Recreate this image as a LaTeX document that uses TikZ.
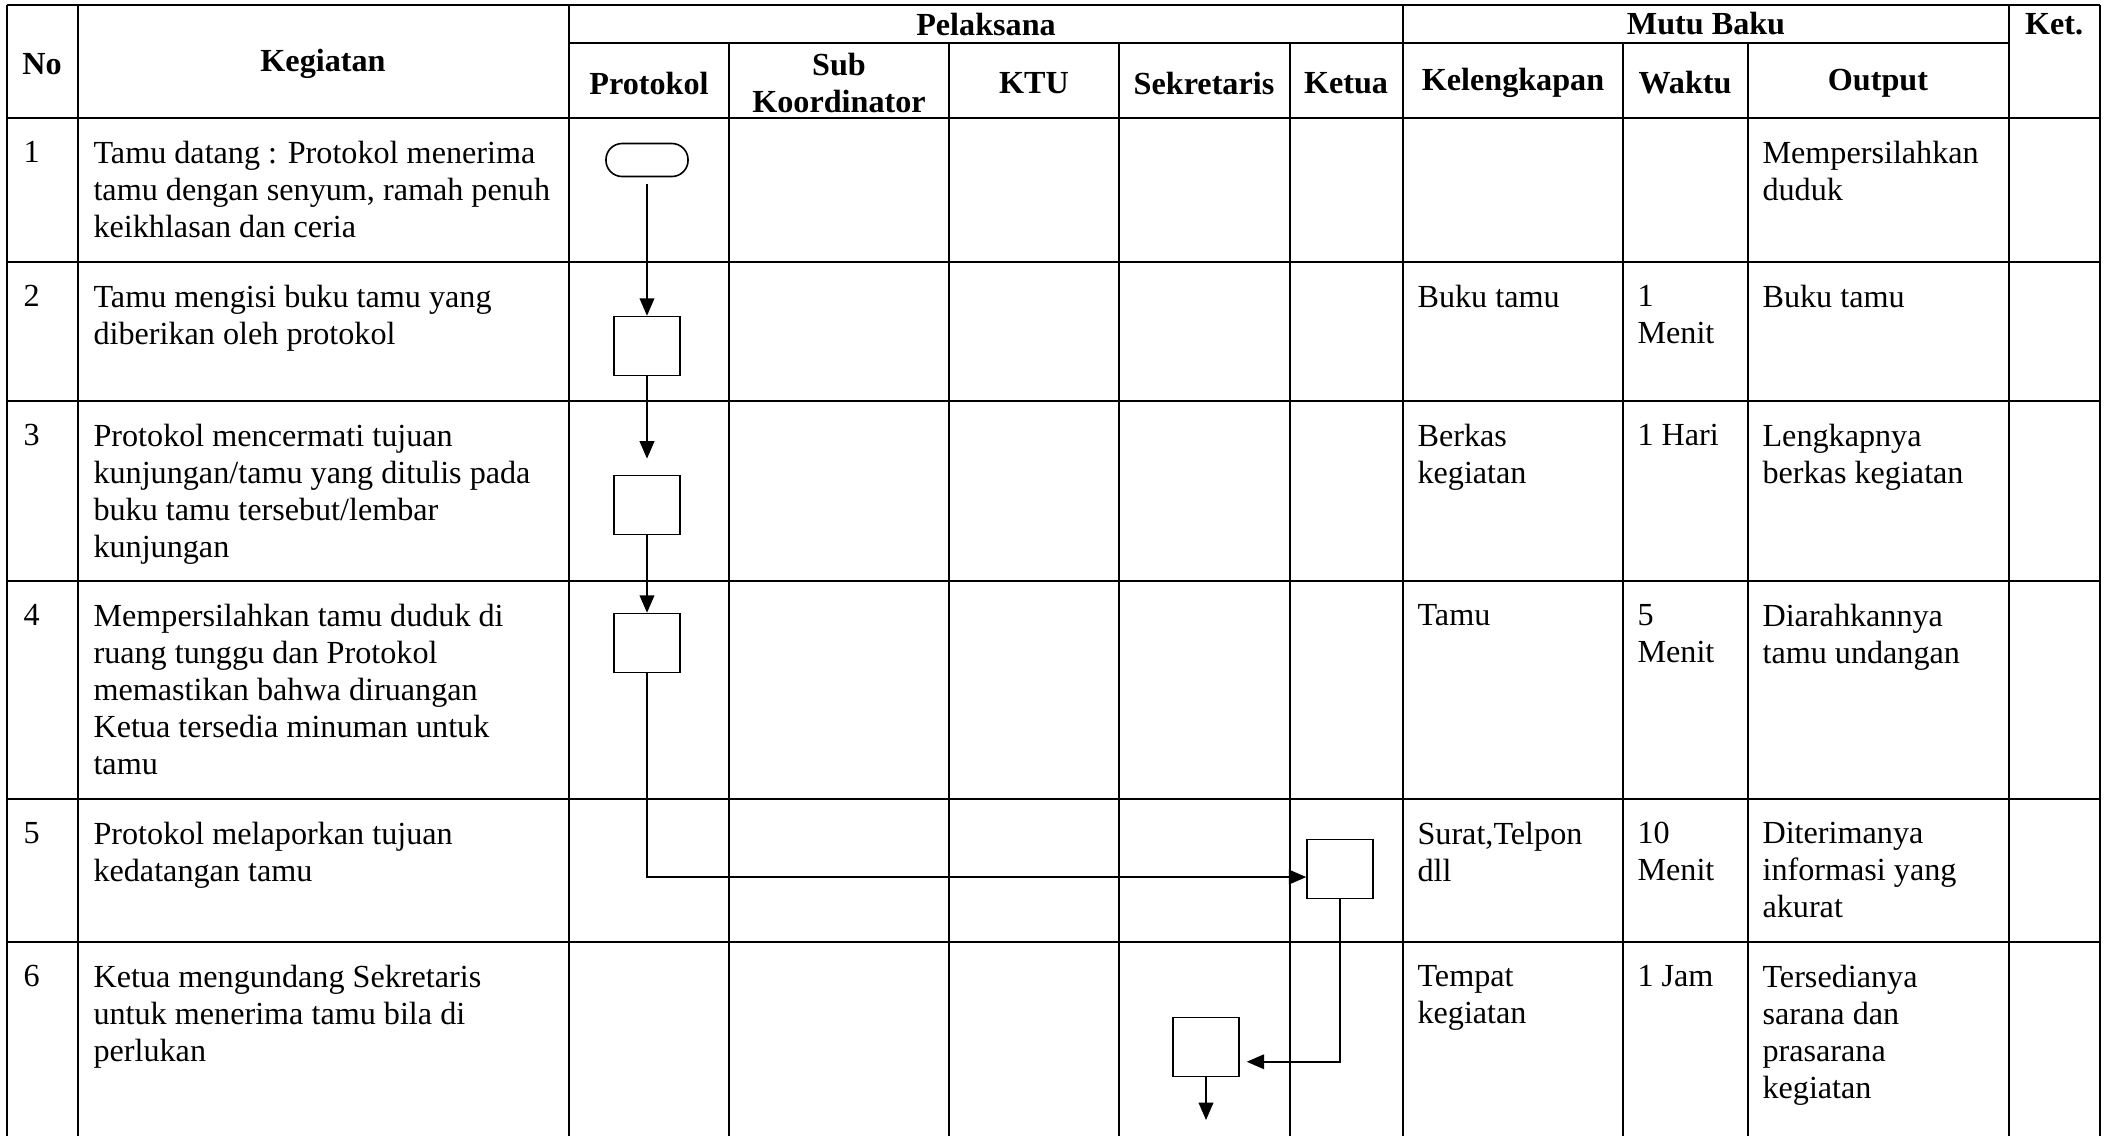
\documentclass[tikz,border=0pt]{standalone}
\usepackage{fontspec}
\setmainfont{Liberation Serif}
\usetikzlibrary{arrows.meta}

\begin{document}
\begin{tikzpicture}[x=0.373pt, y=-0.373pt,
    font=\fontsize{12}{13.8}\selectfont,
    head/.style={font=\fontsize{12}{13.8}\selectfont\bfseries, align=center, inner sep=0pt},
    cell/.style={anchor=north west, align=left, inner sep=0pt},
    rule/.style={line width=0.95pt},
    lane/.style={line width=0.6pt},
    proc/.style={draw, line width=0.6pt, minimum width=24.6pt, minimum height=22pt, inner sep=0pt},
    term/.style={draw, line width=0.6pt, minimum width=30.6pt, minimum height=12.3pt, rounded corners=6pt, inner sep=0pt},
    flow/.style={line width=0.55pt, -{Triangle[length=6.5pt, width=5.5pt]}}]
    \useasboundingbox (0,0) rectangle (2110,1136);
    % Table rules
    \foreach \y in {5,118,262,401,581,799,942} {
        \draw[rule] (7,\y) -- (2100,\y);
    }
    \draw[rule] (569,43) -- (2009,43);
    \foreach \x in {7,78,569,1403,2009,2100} {
        \draw[lane] (\x,5) -- (\x,1136);
    }
    \foreach \x in {729,949,1119,1290,1623,1748} {
        \draw[lane] (\x,43) -- (\x,1136);
    }
    % Header
    \node[head] (Head-No) at (42,64) {No};
    \node[head] (Head-Keg) at (323,64) {Kegiatan};
    \node[head] (Head-Pel) at (986,24) {Pelaksana};
    \node[head] (Head-Mutu) at (1706,24) {Mutu Baku};
    \node[head] (Head-Ket) at (2054,24) {Ket.};
    \foreach \name/\x/\i in {Protokol/649/1, Sub\\Koordinator/839/2, KTU/1034/3, Sekretaris/1204/4, Ketua/1346/5, Kelengkapan/1513/6, Waktu/1685/7, Output/1878/8} {
        \node[head] (Head-\i) at (\x,83) {\name};
    }
    % Rows
    \foreach \i/\y in {1/118,2/262,3/401,4/581,5/799,6/942} {
        \node[cell] (No-\i) at (23,\y+23) {\i};
    }
    \node[cell] (Keg-1) at (93,141) {Tamu datang : Protokol menerima\\tamu dengan senyum, ramah penuh\\keikhlasan dan ceria};
    \node[cell] (Out-1) at (1762,141) {Mempersilahkan\\duduk};
    \node[cell] (Keg-2) at (93,285) {Tamu mengisi buku tamu yang\\diberikan oleh protokol};
    \node[cell] (Kel-2) at (1417,285) {Buku tamu};
    \node[cell] (Wak-2) at (1637,285) {1\\Menit};
    \node[cell] (Out-2) at (1762,285) {Buku tamu};
    \node[cell] (Keg-3) at (93,424) {Protokol mencermati tujuan\\kunjungan/tamu yang ditulis pada\\buku tamu tersebut/lembar\\kunjungan};
    \node[cell] (Kel-3) at (1417,424) {Berkas\\kegiatan};
    \node[cell] (Wak-3) at (1637,424) {1 Hari};
    \node[cell] (Out-3) at (1762,424) {Lengkapnya\\berkas kegiatan};
    \node[cell] (Keg-4) at (93,604) {Mempersilahkan tamu duduk di\\ruang tunggu dan Protokol\\memastikan bahwa diruangan\\Ketua tersedia minuman untuk\\tamu};
    \node[cell] (Kel-4) at (1417,604) {Tamu};
    \node[cell] (Wak-4) at (1637,604) {5\\Menit};
    \node[cell] (Out-4) at (1762,604) {Diarahkannya\\tamu undangan};
    \node[cell] (Keg-5) at (93,822) {Protokol melaporkan tujuan\\kedatangan tamu};
    \node[cell] (Kel-5) at (1417,822) {Surat,Telpon\\dll};
    \node[cell] (Wak-5) at (1637,822) {10\\Menit};
    \node[cell] (Out-5) at (1762,822) {Diterimanya\\informasi yang\\akurat};
    \node[cell] (Keg-6) at (93,965) {Ketua mengundang Sekretaris\\untuk menerima tamu bila di\\perlukan};
    \node[cell] (Kel-6) at (1417,965) {Tempat\\kegiatan};
    \node[cell] (Wak-6) at (1637,965) {1 Jam};
    \node[cell] (Out-6) at (1762,965) {Tersedianya\\sarana dan\\prasarana\\kegiatan};
    % Flow
    \node[term] (Step-1) at (647,160) {};
    \node[proc] (Step-2) at (647,346) {};
    \node[proc] (Step-3) at (647,505) {};
    \node[proc] (Step-4) at (647,643) {};
    \node[proc] (Step-5) at (1340,869) {};
    \node[proc] (Step-6) at (1206,1047) {};
    \coordinate (Next) at (1206,1120);
    \draw[flow, shorten <=2.6pt] (Step-1) -- (Step-2);
    \draw[flow, shorten >=6pt] (Step-2) -- (Step-3);
    \draw[flow] (Step-3) -- (Step-4);
    \draw[flow] (Step-4.south) |- ([yshift=-3pt]Step-5.west);
    \draw[flow, shorten >=2.6pt] (Step-5.south) |- ([yshift=-5.5pt]Step-6.east);
    \draw[flow] (Step-6) -- (Next);
\end{tikzpicture}
\end{document}
